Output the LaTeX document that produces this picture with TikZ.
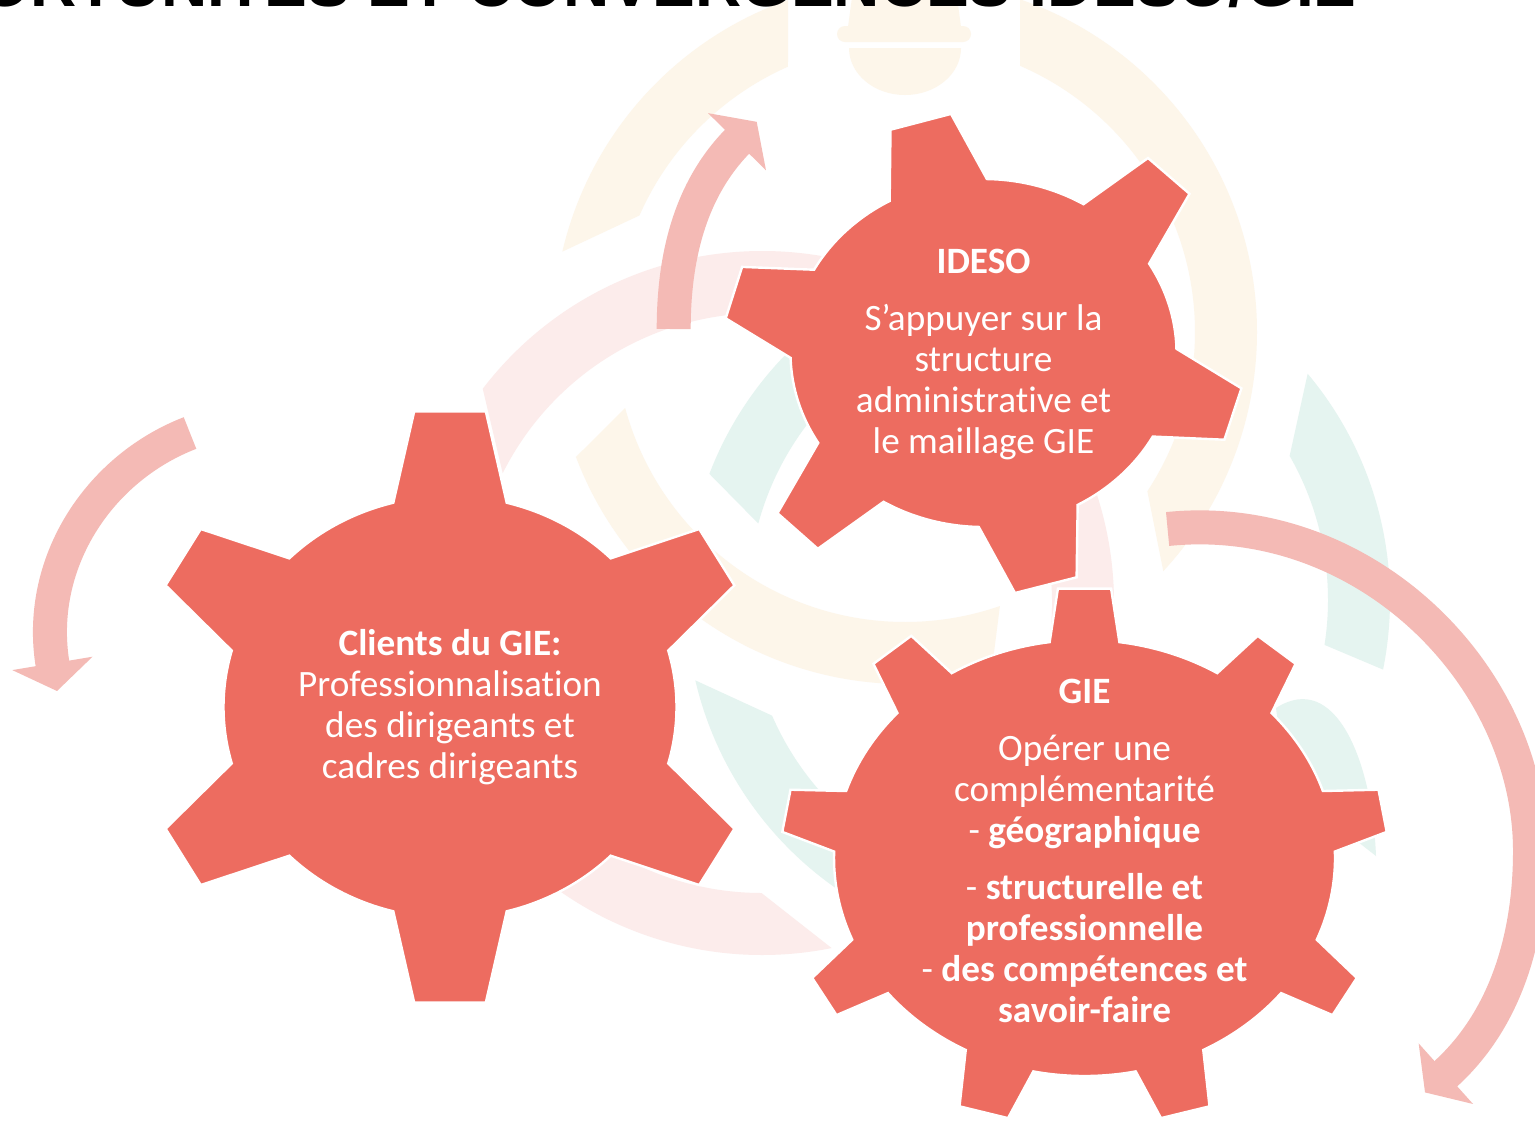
\documentclass[tikz,border=0pt]{standalone}
\usepackage{fontspec}
\setmainfont{Carlito}[Ligatures=NoCommon]
\newfontfamily\titlefont{Liberation Sans}
\usetikzlibrary{arrows.meta}
\definecolor{gearred}{RGB}{237,108,96}
\definecolor{arrowpink}{RGB}{244,186,181}
\definecolor{ringyellow}{RGB}{253,246,234}
\definecolor{ringpink}{RGB}{252,236,235}
\definecolor{ringteal}{RGB}{229,244,240}
% annular segment: colour, centre, outer start, outer end, inner end, inner start
\newcommand\annseg[6]{\fill[#1] ([shift={(#2)}]#3:352) arc[start angle=#3,end angle=#4,radius=352] -- ([shift={(#2)}]#5:290) arc[start angle=#5,end angle=#6,radius=290] -- cycle;}
\tikzset{
  gear/.style={fill=gearred, draw=white, line width=1.2pt, line join=miter},
  gtext/.style={text=white, inner sep=0pt, anchor=base, font=\fontsize{18.6}{21}\selectfont},
  cyclearrow/.style={draw=arrowpink, line width=17pt, -{Triangle[width=40pt,length=14pt]}},
  titlestyle/.style={font=\titlefont\bfseries\fontsize{32}{38}\selectfont, anchor=base east, inner sep=0pt}
}
\begin{document}
\begin{tikzpicture}[x=0.5pt,y=-0.5pt]
\useasboundingbox (0,0) rectangle (1535,1121);
\fill[white] (0,0) rectangle (1535,1121);

% faint background rings
\annseg{ringyellow}{905,332}{193.2}{250.6}{246.2}{203.7}
\annseg{ringyellow}{905,332}{289.1}{402.8}{393.3}{293.4}
\annseg{ringyellow}{905,332}{75.8}{159.2}{164.8}{70.9}
\annseg{ringpink}{762,603}{78.6}{177}{177}{90.1}
\annseg{ringpink}{762,603}{217.5}{395}{395}{206.6}
\annseg{ringteal}{1038,600}{201}{280}{280}{195.3}
\annseg{ringteal}{1038,600}{320}{371.4}{368.9}{330.2}
\annseg{ringteal}{1038,600}{60}{166.8}{156.5}{60}
\fill[ringteal] (1276,708) .. controls (1335,670) and (1372,760) .. (1376,856) -- (1330,820) -- (1280,740) -- cycle;
% helmet icon
\fill[ringyellow] (848,27) -- (853,-10) -- (956,-10) -- (961,27) -- cycle;
\fill[ringyellow, rounded corners=4pt] (837,26) rectangle (971,42);
\fill[ringyellow] (849,48) -- (961,48) arc[start angle=0,end angle=180,x radius=56,y radius=47] -- cycle;

% circular arrows
\coordinate (la-s) at (190,433);
\coordinate (la-e) at (57,691);
\draw[cyclearrow] (la-s) .. controls (97,469) and (36,565) .. (la-e);
\coordinate (ta-s) at (673.7,329);
\coordinate (ta-e) at (756.7,121.8);
\draw[cyclearrow] (ta-s) .. controls (673.7,260) and (688.7,190.7) .. (ta-e);
\coordinate (ra-s) at (1167.6,529);
\coordinate (ra-m) at (1530,851);
\coordinate (ra-e) at (1425,1092.4);
\draw[cyclearrow] (ra-s) .. controls (1363,509) and (1530,674) .. (ra-m) .. controls (1530,934) and (1507.3,1018.5) .. (ra-e);

% IDESO gear
\begin{scope}[shift={(983.5,353)}]
\filldraw[gear] (-119.1:193 and 174) -- (-93,-223.3) -- (-32.5,-239.1) -- (-89:193 and 174)
 arc[start angle=-89,end angle=-58.8,x radius=193,y radius=174] -- (164.5,-195) -- (206,-159.2) -- (-30.9:193 and 174)
 arc[start angle=-30.9,end angle=-1.4,x radius=193,y radius=174] -- (257.9,35.3) -- (240.9,86.7) -- (28.7:193 and 174)
 arc[start angle=28.7,end angle=60.8,x radius=193,y radius=174] -- (93.1,224.3) -- (31.5,240) -- (91.4:193 and 174)
 arc[start angle=91.4,end angle=121.2,x radius=193,y radius=174] -- (-165.7,195.8) -- (-206,160.2) -- (148.9:193 and 174)
 arc[start angle=148.9,end angle=178.4,x radius=193,y radius=174] -- (-257.8,-34.7) -- (-241.4,-86.1) -- (208.6:193 and 174)
 arc[start angle=208.6,end angle=240.9,x radius=193,y radius=174] -- cycle;
\end{scope}

% Client gear
\begin{scope}[shift={(450,707)}]
\filldraw[gear] (-104.5:226.5 and 211) -- (-35.8,-295.6) -- (35.8,-295.6) -- (-75.5:226.5 and 211)
 arc[start angle=-75.5,end angle=-44.8,x radius=226.5,y radius=211] -- (249.2,-178) -- (284.4,-121.7) -- (-15.5:226.5 and 211)
 arc[start angle=-15.5,end angle=15.5,x radius=226.5,y radius=211] -- (284.4,121.7) -- (249.2,178) -- (44.8:226.5 and 211)
 arc[start angle=44.8,end angle=75.5,x radius=226.5,y radius=211] -- (35.8,295.6) -- (-35.8,295.6) -- (104.5:226.5 and 211)
 arc[start angle=104.5,end angle=135.2,x radius=226.5,y radius=211] -- (-249.2,178) -- (-284.4,121.7) -- (164.5:226.5 and 211)
 arc[start angle=164.5,end angle=195.5,x radius=226.5,y radius=211] -- (-284.4,-121.7) -- (-249.2,-178) -- (224.8:226.5 and 211)
 arc[start angle=224.8,end angle=255.5,x radius=226.5,y radius=211] -- cycle;
\end{scope}

% GIE gear
\begin{scope}[shift={(1084.5,858)}]
\filldraw[gear] (-98:250.5 and 218) -- (-26.6,-269.4) -- (26.6,-269.4) -- (-82:250.5 and 218)
 arc[start angle=-82,end angle=-58,x radius=250.5,y radius=218] -- (173.2,-222.2) -- (211.1,-194.2) -- (-41.7:250.5 and 218)
 arc[start angle=-41.7,end angle=-17.9,x radius=250.5,y radius=218] -- (294,-68.3) -- (302.2,-26.1) -- (-1.7:250.5 and 218)
 arc[start angle=-1.7,end angle=22,x radius=250.5,y radius=218] -- (272.3,119.9) -- (248,157.1) -- (38.3:250.5 and 218)
 arc[start angle=38.3,end angle=61.7,x radius=250.5,y radius=218] -- (125,248.3) -- (76.5,260.1) -- (78.2:250.5 and 218)
 arc[start angle=78.2,end angle=101.8,x radius=250.5,y radius=218] -- (-76.5,260.1) -- (-125,248.3) -- (118.3:250.5 and 218)
 arc[start angle=118.3,end angle=141.7,x radius=250.5,y radius=218] -- (-248,157.1) -- (-272.3,119.9) -- (158:250.5 and 218)
 arc[start angle=158,end angle=181.7,x radius=250.5,y radius=218] -- (-302.2,-26.1) -- (-294,-68.3) -- (197.9:250.5 and 218)
 arc[start angle=197.9,end angle=221.7,x radius=250.5,y radius=218] -- (-211.1,-194.2) -- (-173.2,-222.2) -- (238:250.5 and 218)
 arc[start angle=238,end angle=262,x radius=250.5,y radius=218] -- cycle;
\end{scope}

% IDESO text
\node[gtext] (i1) at (983.5,273.6) {\textbf{IDESO}};
\node[gtext] (i2) at (983.5,330) {S’appuyer sur la};
\node[gtext] (i3) at (983.5,371.5) {structure};
\node[gtext] (i4) at (983.5,412.5) {administrative et};
\node[gtext] (i5) at (983.5,453.5) {le maillage GIE};
% Client text
\node[gtext] (c1) at (450,655.5) {\textbf{Clients du GIE:}};
\node[gtext] (c2) at (450,696.3) {Professionnalisation};
\node[gtext] (c3) at (450,737) {des dirigeants et};
\node[gtext] (c4) at (450,778) {cadres dirigeants};
% GIE text
\node[gtext] (g1) at (1084.5,703.8) {\textbf{GIE}};
\node[gtext] (g2) at (1084.5,760.4) {Opérer une};
\node[gtext] (g3) at (1084.5,801.5) {complémentarité};
\node[gtext] (g4) at (1084.5,842.6) {- \textbf{géographique}};
\node[gtext] (g5) at (1084.5,899.2) {- \textbf{structurelle et}};
\node[gtext] (g6) at (1084.5,940) {\textbf{professionnelle}};
\node[gtext] (g7) at (1084.5,981.5) {- \textbf{des compétences et}};
\node[gtext] (g8) at (1084.5,1022.6) {\textbf{savoir-faire}};

% title (cut off by the top edge, as in the reference)
\node[titlestyle] (title) at (1357,6) {OPPORTUNITES ET CONVERGENCES IDESO/GIE};
\end{tikzpicture}
\end{document}
